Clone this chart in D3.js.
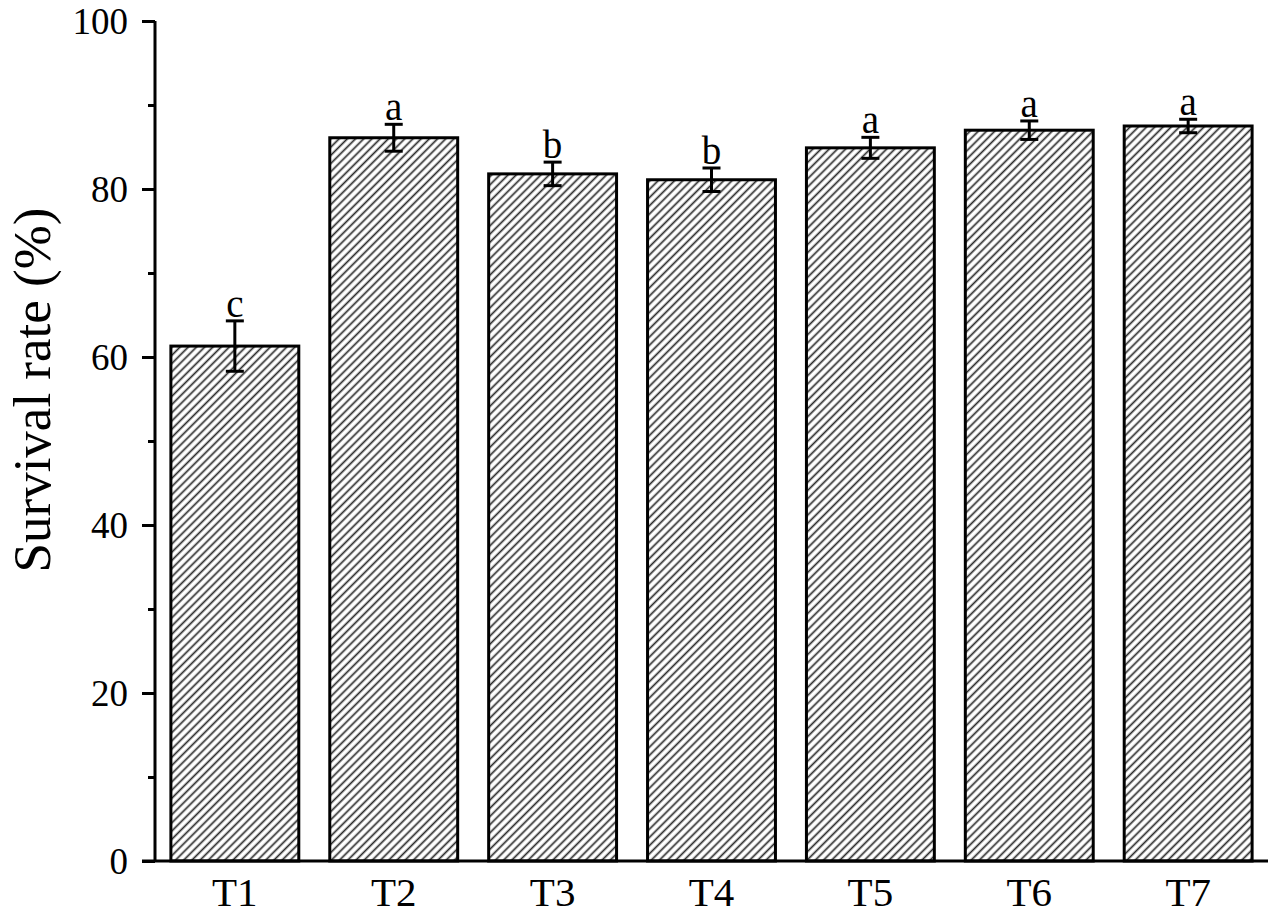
<!DOCTYPE html>
<html><head><meta charset="utf-8">
<script src="https://cdn.jsdelivr.net/npm/d3@7"></script>
<style>
html,body{margin:0;padding:0;background:#fff;}
svg text{font-family:"Liberation Serif","Times New Roman",serif;fill:#000;}
</style></head>
<body><svg id="chart" width="1280" height="921"></svg>
<script>
const categories = ["T1","T2","T3","T4","T5","T6","T7"];
const values = [61.3, 86.1, 81.8, 81.1, 84.9, 87.0, 87.5];
const errors = [3.0, 1.6, 1.4, 1.4, 1.25, 1.1, 0.8];
const letters = ["c","a","b","b","a","a","a"];
const yTicks = [0,20,40,60,80,100];
const yMinorTicks = [10,30,50,70,90];

const svg = d3.select("#chart");
const x = d3.scaleBand().domain(categories).range([155,1268]).paddingInner(0.195).paddingOuter(0.1);
const y = d3.scaleLinear().domain([0,100]).range([861,21]);

const defs = svg.append("defs");
const pat = defs.append("pattern").attr("id","hatch").attr("patternUnits","userSpaceOnUse")
  .attr("width",5.8).attr("height",6).attr("patternTransform","rotate(45)");
pat.append("rect").attr("width",5.8).attr("height",6).attr("fill","#fff");
pat.append("line").attr("x1",1.5).attr("y1",0).attr("x2",1.5).attr("y2",6)
  .attr("stroke","#2a2a2a").attr("stroke-width",1.7);

// bars
svg.append("g").selectAll("rect").data(categories).join("rect")
  .attr("x",d=>x(d)).attr("y",(d,i)=>y(values[i]))
  .attr("width",x.bandwidth()).attr("height",(d,i)=>y(0)-y(values[i]))
  .attr("fill","url(#hatch)").attr("stroke","#000").attr("stroke-width",3);

// error bars
const eb = svg.append("g").attr("stroke","#000").attr("stroke-width",3);
categories.forEach((c,i)=>{
  const cx = x(c)+x.bandwidth()/2;
  const yt = y(values[i]+errors[i]), yb = y(values[i]-errors[i]);
  eb.append("line").attr("x1",cx).attr("x2",cx).attr("y1",yt).attr("y2",yb);
  eb.append("line").attr("x1",cx-9).attr("x2",cx+9).attr("y1",yt).attr("y2",yt);
  eb.append("line").attr("x1",cx-9).attr("x2",cx+9).attr("y1",yb).attr("y2",yb);
});

// letters
svg.append("g").selectAll("text").data(categories).join("text")
  .attr("x",d=>x(d)+x.bandwidth()/2)
  .attr("y",(d,i)=>y(values[i]+errors[i])-4)
  .attr("text-anchor","middle").attr("font-size",39)
  .text((d,i)=>letters[i]);

// y axis
const yAxis = svg.append("g").attr("transform","translate(155,0)")
  .call(d3.axisLeft(y).tickValues(yTicks).tickSize(13).tickPadding(14).tickFormat(d3.format("d")));
yAxis.select(".domain").attr("stroke-width",3).attr("d","M0,21V861");
yAxis.selectAll(".tick line").attr("stroke-width",3);
yAxis.selectAll(".tick text").attr("font-size",37).attr("font-family","'Liberation Serif',serif").attr("dy","0.34em");
const yMinor = svg.append("g").attr("transform","translate(155,0)")
  .call(d3.axisLeft(y).tickValues(yMinorTicks).tickSize(7).tickFormat(""));
yMinor.select(".domain").remove();
yMinor.selectAll(".tick line").attr("stroke-width",3);

// x axis
const xAxis = svg.append("g").attr("transform","translate(0,861)")
  .call(d3.axisBottom(x).tickSize(0).tickPadding(16));
xAxis.select(".domain").attr("stroke-width",3).attr("d","M142,0H1268");
xAxis.selectAll(".tick text").attr("font-size",41).attr("font-family","'Liberation Serif',serif");

// y title
svg.append("text").attr("transform","translate(50,390) rotate(-90)")
  .attr("text-anchor","middle").attr("font-size",53).text("Survival rate (%)");
</script></body></html>
